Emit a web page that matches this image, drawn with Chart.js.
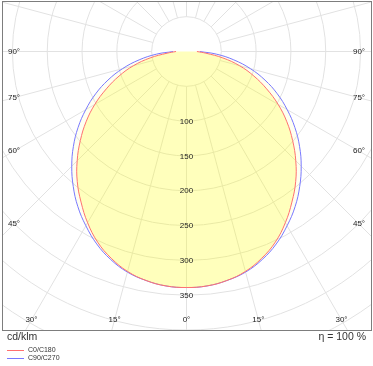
<!DOCTYPE html>
<html>
<head>
<meta charset="utf-8">
<script src="https://cdn.jsdelivr.net/npm/chart.js@4.4.0/dist/chart.umd.min.js"></script>
<style>
  html, body { margin: 0; padding: 0; background: #fff; }
</style>
</head>
<body>
<canvas id="chart" width="373" height="366"></canvas>
<script>
// gamma angles from nadir (deg), one half of the symmetric curves
const angles = [0, 5, 10, 15, 20, 25, 30, 35, 40, 45, 50, 55, 60, 65, 70, 75, 80, 85, 90];
const c0c180 = [339, 338, 334, 327, 316, 302, 284, 264, 244, 222, 199, 176, 152, 127, 103, 79, 53, 28, 15];
const c90c270 = [339, 338, 334, 328, 318, 305, 289, 272, 253, 233, 212, 190, 167, 144, 120, 95, 69, 43, 19];

const radiusTicks = [100, 150, 200, 250, 300, 350];
const gridCircles = [50, 100, 150, 200, 250, 300, 350, 400, 450, 500, 550, 600];
const angleTicks = [0, 15, 30, 45, 60, 75, 90];
const seriesNames = ["C0/C180", "C90/C270"];
const unitLabel = "cd/klm";
const efficiencyLabel = "η = 100 %";

const RAD = Math.PI / 180;

// polar (gamma, cd/klm) -> x/y, left half mirrored from the right one
function toPoints(values) {
  const pts = [];
  for (let i = angles.length - 1; i > 0; i--) {
    const a = angles[i] * RAD;
    pts.push({ x: -values[i] * Math.sin(a), y: -values[i] * Math.cos(a) });
  }
  for (let i = 0; i < angles.length; i++) {
    const a = angles[i] * RAD;
    pts.push({ x: values[i] * Math.sin(a), y: -values[i] * Math.cos(a) });
  }
  return pts;
}

const polarGrid = {
  id: "polarGrid",
  beforeDatasetsDraw(chart) {
    const { ctx, chartArea: a, scales: { x, y } } = chart;
    const cx = x.getPixelForValue(0);
    const cy = y.getPixelForValue(0);
    const k = x.getPixelForValue(1) - cx;
    ctx.save();
    ctx.beginPath();
    ctx.rect(a.left, a.top, a.right - a.left, a.bottom - a.top);
    ctx.clip();
    ctx.strokeStyle = "#e2e2e2";
    ctx.lineWidth = 1;
    gridCircles.forEach(r => {
      ctx.beginPath();
      ctx.arc(cx, cy, r * k, 0, Math.PI * 2);
      ctx.stroke();
    });
    for (let deg = 0; deg < 360; deg += 15) {
      const dx = Math.sin(deg * RAD), dy = Math.cos(deg * RAD);
      ctx.beginPath();
      ctx.moveTo(cx + dx * 50 * k, cy + dy * 50 * k);
      ctx.lineTo(cx + dx * 900 * k, cy + dy * 900 * k);
      ctx.stroke();
    }
    ctx.restore();
  }
};

const labels = {
  id: "labels",
  afterDraw(chart) {
    const { ctx, scales: { x, y } } = chart;
    const cx = x.getPixelForValue(0);
    const cy = y.getPixelForValue(0);
    ctx.save();

    // frame
    ctx.strokeStyle = "#7d7d7d";
    ctx.lineWidth = 1;
    ctx.strokeRect(2.5, 1.5, 369, 329);

    ctx.fillStyle = "#222";
    ctx.textAlign = "center";
    ctx.textBaseline = "middle";

    // cd/klm values down the axis
    ctx.font = "8px 'Liberation Sans', Arial, sans-serif";
    radiusTicks.forEach(r => {
      ctx.fillText(String(r), cx, y.getPixelForValue(-r) + 0.5);
    });

    // gamma labels along the inner edge of the frame
    const sideInset = 172.5, bottomInset = 268.5;
    ctx.font = "8px 'Liberation Sans', Arial, sans-serif";
    angleTicks.forEach(deg => {
      const s = Math.sin(deg * RAD), c = Math.cos(deg * RAD);
      const t = Math.min(s > 0 ? sideInset / s : Infinity, c > 0.001 ? bottomInset / c : Infinity);
      [-1, 1].forEach(side => {
        if (deg === 0 && side < 0) return;
        ctx.fillText(deg + "°", cx + side * s * t, cy + c * t);
      });
    });

    // unit and efficiency
    ctx.font = "10.5px 'Liberation Sans', Arial, sans-serif";
    ctx.textAlign = "left";
    ctx.fillStyle = "#333";
    ctx.fillText(unitLabel, 7, 337);
    ctx.textAlign = "right";
    ctx.fillText(efficiencyLabel, 366, 337);

    // legend
    const colors = [chart.data.datasets[0].borderColor, chart.data.datasets[1].borderColor];
    ctx.font = "7px 'Liberation Sans', Arial, sans-serif";
    ctx.textAlign = "left";
    seriesNames.forEach((name, i) => {
      const ly = 350.5 + i * 8;
      ctx.strokeStyle = colors[i];
      ctx.beginPath();
      ctx.moveTo(7, ly);
      ctx.lineTo(24, ly);
      ctx.stroke();
      ctx.fillStyle = "#333";
      ctx.fillText(name, 28, ly);
    });
    ctx.restore();
  }
};

new Chart(document.getElementById("chart"), {
  type: "scatter",
  data: {
    datasets: [
      {
        label: seriesNames[0],
        data: toPoints(c0c180),
        showLine: true,
        borderColor: "#ff7070",
        borderWidth: 1,
        backgroundColor: "rgba(255,255,0,0.22)",
        fill: "shape",
        pointRadius: 0,
        tension: 0.4
      },
      {
        label: seriesNames[1],
        data: toPoints(c90c270),
        showLine: true,
        borderColor: "#7878ff",
        borderWidth: 1,
        backgroundColor: "rgba(255,255,0,0.06)",
        fill: "shape",
        pointRadius: 0,
        tension: 0.4
      }
    ]
  },
  options: {
    responsive: false,
    animation: false,
    layout: { padding: { left: 3, right: 2, top: 2, bottom: 36 } },
    scales: {
      x: { type: "linear", min: -263.5, max: 265, display: false },
      y: { type: "linear", min: -400, max: 71.1, display: false }
    },
    plugins: {
      legend: { display: false },
      tooltip: { enabled: false }
    }
  },
  plugins: [polarGrid, labels]
});
</script>
</body>
</html>
